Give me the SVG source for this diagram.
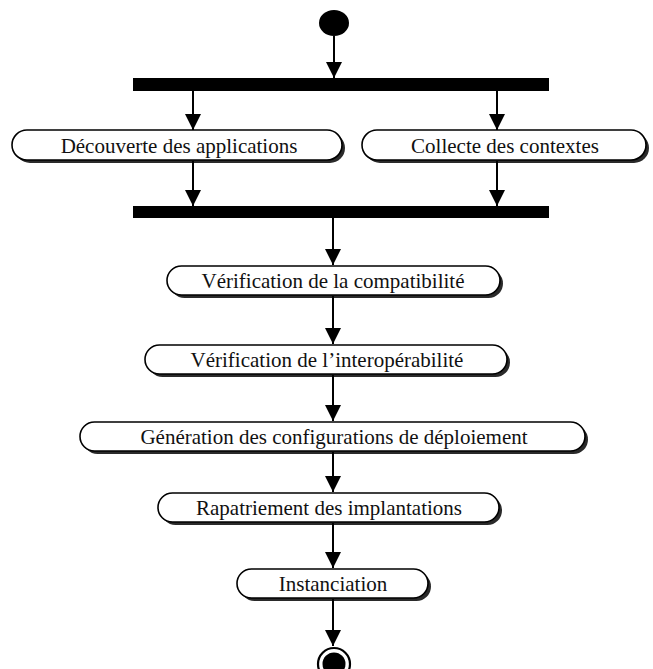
<svg xmlns="http://www.w3.org/2000/svg" width="653" height="669" viewBox="0 0 653 669">
  <style>
    .act rect.shadow { fill: #2a2a2a; stroke: none; }
    .act rect.body { fill: #ffffff; stroke: #000000; stroke-width: 1.6; }
    .act text { font-family: "Liberation Serif", "Times New Roman", serif; font-size: 21px; fill: #111; text-anchor: middle; }
    .bar { fill: #000000; }
    .flow line { stroke: #000000; stroke-width: 2; marker-end: url(#head); }
  </style>
  <defs>
    <marker id="head" markerUnits="userSpaceOnUse" markerWidth="16" markerHeight="16" viewBox="0 0 16 16" refX="16" refY="8" orient="auto">
      <polygon points="0,0 16,8 0,16" fill="#000000"/>
    </marker>
  </defs>
  <rect width="653" height="669" fill="#ffffff"/>

  <!-- initial state -->
  <g id="start">
    <ellipse cx="334" cy="23" rx="15" ry="13" fill="#000000"/>
  </g>

  <!-- fork / join bars -->
  <g id="fork">
    <rect class="bar" x="133" y="78" width="416" height="13"/>
  </g>
  <g id="join">
    <rect class="bar" x="133" y="206" width="416" height="12"/>
  </g>

  <!-- activities -->
  <g id="decouverte" class="act">
    <rect class="shadow" x="15" y="133" width="330" height="30" rx="15" ry="15"/>
    <rect class="body" x="12" y="130" width="330" height="30" rx="15" ry="15"/>
    <text x="179" y="153">Découverte des applications</text>
  </g>
  <g id="collecte" class="act">
    <rect class="shadow" x="365" y="133" width="284" height="30" rx="15" ry="15"/>
    <rect class="body" x="362" y="130" width="284" height="30" rx="15" ry="15"/>
    <text x="505" y="153">Collecte des contextes</text>
  </g>
  <g id="compatibilite" class="act">
    <rect class="shadow" x="170" y="269" width="333" height="29" rx="14.5" ry="14.5"/>
    <rect class="body" x="167" y="266" width="333" height="29" rx="14.5" ry="14.5"/>
    <text x="333" y="288">Vérification de la compatibilité</text>
  </g>
  <g id="interoperabilite" class="act">
    <rect class="shadow" x="148" y="348" width="362" height="29" rx="14.5" ry="14.5"/>
    <rect class="body" x="145" y="345" width="362" height="29" rx="14.5" ry="14.5"/>
    <text x="327" y="367">Vérification de l’interopérabilité</text>
  </g>
  <g id="generation" class="act">
    <rect class="shadow" x="83" y="425" width="505" height="29" rx="14.5" ry="14.5"/>
    <rect class="body" x="80" y="422" width="505" height="29" rx="14.5" ry="14.5"/>
    <text x="334" y="444">Génération des configurations de déploiement</text>
  </g>
  <g id="rapatriement" class="act">
    <rect class="shadow" x="161" y="496" width="341" height="29" rx="14.5" ry="14.5"/>
    <rect class="body" x="158" y="493" width="341" height="29" rx="14.5" ry="14.5"/>
    <text x="329" y="515">Rapatriement des implantations</text>
  </g>
  <g id="instanciation" class="act">
    <rect class="shadow" x="240" y="572" width="191" height="29" rx="14.5" ry="14.5"/>
    <rect class="body" x="237" y="569" width="191" height="29" rx="14.5" ry="14.5"/>
    <text x="333" y="591">Instanciation</text>
  </g>

  <!-- final state -->
  <g id="end">
    <circle cx="334" cy="664" r="16" fill="#ffffff" stroke="#000000" stroke-width="2.2"/>
    <circle cx="334" cy="664" r="11.5" fill="#000000"/>
  </g>

  <!-- transitions -->
  <g id="connectors" class="flow">
    <line x1="334" y1="36" x2="334" y2="78"/>
    <line x1="193" y1="91" x2="193" y2="130"/>
    <line x1="497" y1="91" x2="497" y2="130"/>
    <line x1="193" y1="161" x2="193" y2="206"/>
    <line x1="497" y1="161" x2="497" y2="206"/>
    <line x1="333" y1="218" x2="333" y2="265"/>
    <line x1="333" y1="296" x2="333" y2="344"/>
    <line x1="333" y1="375" x2="333" y2="421"/>
    <line x1="333" y1="452" x2="333" y2="492"/>
    <line x1="333" y1="523" x2="333" y2="568"/>
    <line x1="333" y1="599" x2="333" y2="646"/>
  </g>
</svg>
